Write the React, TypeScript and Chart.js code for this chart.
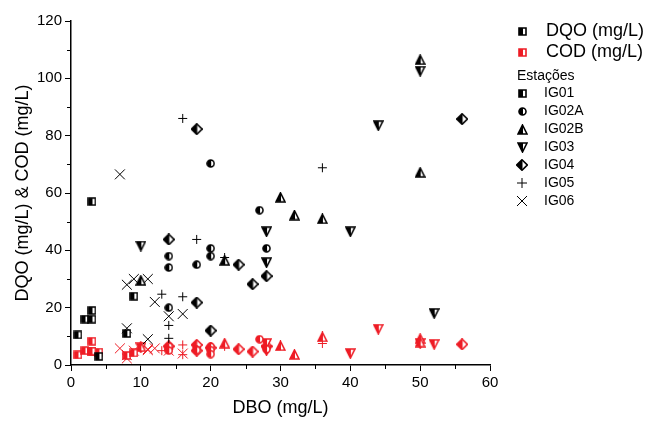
import React, { useEffect, useRef } from "react";
import { Chart, registerables } from "chart.js";
Chart.register(...registerables);

const FONT = "'Liberation Sans', Arial, sans-serif";
const BLACK = "#000000";
const RED = "#ee1c25";

const stations = ["IG01", "IG02A", "IG02B", "IG03", "IG04", "IG05", "IG06"];
const shapes = ["square", "circle", "triUp", "triDown", "diamond", "cross", "crossRot"];

const ig01DBO = [1, 2, 3, 3, 4, 8, 9, 3];
const ig01DQO = [10.5, 16, 16, 19, 3, 11, 24, 57];
const ig01COD = [3.5, 5, 4.8, 8.3, 4.5, 3.3, 4.2, 4.8];

const ig02aDBO = [14, 14, 14, 18, 20, 20, 20, 27, 28];
const ig02aDQO = [38, 34, 20, 35, 40.7, 38, 70.3, 54, 40.7];
const ig02aCOD = [5.5, 6.5, 5, 5.2, 6.4, 5.2, 3.8, 9, 5.5];

const ig02bDBO = [10, 22, 30, 32, 36, 50, 50];
const ig02bDQO = [29.5, 36.5, 58.5, 52.3, 51, 106.5, 67.2];
const ig02bCOD = [6.4, 7.6, 6.7, 3.7, 9.8, 9.2, 8];

const ig03DBO = [10, 28, 28, 40, 44, 50, 52];
const ig03DQO = [41.5, 46.5, 35.7, 46.5, 83.5, 102.5, 18];
const ig03COD = [6, 7.5, 5, 4, 12.5, 7.5, 7.2];

const ig04DBO = [14, 18, 18, 20, 24, 26, 28, 56];
const ig04DQO = [43.8, 82.3, 21.8, 12, 35, 28.2, 31, 85.8];
const ig04COD = [6.5, 7, 5, 6, 5.5, 4.7, 6.5, 7.2];

const ig05DBO = [13, 14, 14, 16, 16, 18, 22, 36];
const ig05DQO = [24.7, 13.8, 9.3, 23.8, 86, 43.8, 37.5, 68.8];
const ig05COD = [5, 5.5, 6.5, 7, 3.6, 6, 6.5, 7.5];

const ig06DBO = [7, 8, 8, 9, 11, 11, 12, 14, 16];
const ig06DQO = [66.5, 28, 12.8, 30, 30, 9, 22, 17, 17.8];
const ig06COD = [5.8, 2.3, 3.5, 5, 5.2, 5.5, 5.8, 5, 4];

const dboByStation = [ig01DBO, ig02aDBO, ig02bDBO, ig03DBO, ig04DBO, ig05DBO, ig06DBO];
const dqoByStation = [ig01DQO, ig02aDQO, ig02bDQO, ig03DQO, ig04DQO, ig05DQO, ig06DQO];
const codByStation = [ig01COD, ig02aCOD, ig02bCOD, ig03COD, ig04COD, ig05COD, ig06COD];

const xTicks = [0, 10, 20, 30, 40, 50, 60];
const yTicks = [0, 20, 40, 60, 80, 100, 120];

const sizeOf: Record<string, number> = { square: 9, circle: 9, triUp: 11, triDown: 11, diamond: 12 };

function shapePath(ctx: CanvasRenderingContext2D, shape: string, s: number) {
  const c = s / 2;
  ctx.beginPath();
  if (shape === "square") ctx.rect(1, 1, s - 2, s - 2);
  else if (shape === "circle") ctx.arc(c, c, c - 1, 0, Math.PI * 2);
  else if (shape === "triUp") {
    ctx.moveTo(c, 1); ctx.lineTo(s - 1, s - 1); ctx.lineTo(1, s - 1); ctx.closePath();
  } else if (shape === "triDown") {
    ctx.moveTo(1, 1); ctx.lineTo(s - 1, 1); ctx.lineTo(c, s - 1); ctx.closePath();
  } else if (shape === "diamond") {
    ctx.moveTo(c, 0.75); ctx.lineTo(s - 0.75, c); ctx.lineTo(c, s - 0.75); ctx.lineTo(0.75, c); ctx.closePath();
  }
}

function makeMarker(shape: string, color: string): HTMLCanvasElement {
  const s = sizeOf[shape];
  const cv = document.createElement("canvas");
  cv.width = s; cv.height = s;
  const ctx = cv.getContext("2d")!;
  shapePath(ctx, shape, s);
  ctx.fillStyle = "#ffffff";
  ctx.fill();
  ctx.save();
  ctx.beginPath();
  ctx.rect(0, 0, s / 2 + 0.5, s);
  ctx.clip();
  shapePath(ctx, shape, s);
  ctx.fillStyle = color;
  ctx.fill();
  ctx.restore();
  shapePath(ctx, shape, s);
  ctx.strokeStyle = color;
  ctx.lineWidth = 1.6;
  ctx.stroke();
  return cv;
}

function pointStyleFor(shape: string, color: string): any {
  if (shape === "cross") return "cross";
  if (shape === "crossRot") return "crossRot";
  return makeMarker(shape, color);
}

function drawLegendMarker(ctx: CanvasRenderingContext2D, shape: string, color: string, x: number, y: number) {
  if (shape === "cross" || shape === "crossRot") {
    ctx.save();
    ctx.strokeStyle = color;
    ctx.lineWidth = 1;
    ctx.beginPath();
    if (shape === "cross") {
      ctx.moveTo(x - 5, y); ctx.lineTo(x + 5, y);
      ctx.moveTo(x, y - 5); ctx.lineTo(x, y + 5);
    } else {
      ctx.moveTo(x - 5, y - 5); ctx.lineTo(x + 5, y + 5);
      ctx.moveTo(x + 5, y - 5); ctx.lineTo(x - 5, y + 5);
    }
    ctx.stroke();
    ctx.restore();
    return;
  }
  const m = makeMarker(shape, color);
  ctx.drawImage(m, Math.round(x - m.width / 2), Math.round(y - m.height / 2));
}

const legendPlugin = {
  id: "customLegend",
  afterDraw(chart: any) {
    const ctx: CanvasRenderingContext2D = chart.ctx;
    ctx.save();
    ctx.fillStyle = "#000";
    ctx.textBaseline = "middle";
    ctx.textAlign = "left";
    drawLegendMarker(ctx, "square", BLACK, 522, 31);
    drawLegendMarker(ctx, "square", RED, 522, 52);
    ctx.font = `18px ${FONT}`;
    ctx.fillText("DQO (mg/L)", 546, 31);
    ctx.fillText("COD (mg/L)", 546, 52);
    ctx.font = `14px ${FONT}`;
    ctx.fillText("Estações", 517, 76);
    stations.forEach((st, i) => {
      const y = 93 + i * 18;
      drawLegendMarker(ctx, shapes[i], BLACK, 522, y);
      ctx.fillStyle = "#000";
      ctx.fillText(st, 544, y);
    });
    ctx.restore();
  },
};

const minorTicksPlugin = {
  id: "minorTicks",
  afterDraw(chart: any) {
    const ctx: CanvasRenderingContext2D = chart.ctx;
    const xs = chart.scales.x;
    const ys = chart.scales.y;
    const area = chart.chartArea;
    ctx.save();
    ctx.strokeStyle = "#000";
    ctx.lineWidth = 1;
    ctx.beginPath();
    for (let v = 5; v < 60; v += 10) {
      const px = Math.round(xs.getPixelForValue(v)) + 0.5;
      ctx.moveTo(px, area.bottom);
      ctx.lineTo(px, area.bottom + 4);
    }
    for (let v = 10; v < 120; v += 20) {
      const py = Math.round(ys.getPixelForValue(v)) + 0.5;
      ctx.moveTo(area.left, py);
      ctx.lineTo(area.left - 4, py);
    }
    ctx.stroke();
    ctx.restore();
  },
};

export default function App() {
  const ref = useRef<HTMLCanvasElement>(null);
  useEffect(() => {
    if (!ref.current) return;
    const datasets: any[] = [];
    stations.forEach((st, i) => {
      const isLine = shapes[i] === "cross" || shapes[i] === "crossRot";
      const radius = shapes[i] === "crossRot" ? 7 : 4.5;
      datasets.push({
        label: `${st} DQO`,
        data: dboByStation[i].map((x, j) => ({ x, y: dqoByStation[i][j] })),
        pointStyle: pointStyleFor(shapes[i], BLACK),
        radius,
        borderColor: BLACK,
        backgroundColor: BLACK,
        borderWidth: isLine ? 1 : 0,
        showLine: false,
      });
    });
    stations.forEach((st, i) => {
      const isLine = shapes[i] === "cross" || shapes[i] === "crossRot";
      const radius = shapes[i] === "crossRot" ? 7 : 4.5;
      datasets.push({
        label: `${st} COD`,
        data: dboByStation[i].map((x, j) => ({ x, y: codByStation[i][j] })),
        pointStyle: pointStyleFor(shapes[i], RED),
        radius,
        borderColor: RED,
        backgroundColor: RED,
        borderWidth: isLine ? 1 : 0,
        showLine: false,
      });
    });

    const chart = new Chart(ref.current, {
      type: "scatter",
      data: { datasets },
      plugins: [minorTicksPlugin, legendPlugin],
      options: {
        animation: false,
        responsive: false,
        maintainAspectRatio: false,
        layout: { padding: { left: 0, right: 156, top: 21, bottom: 0 } },
        plugins: { legend: { display: false }, tooltip: { enabled: false } },
        scales: {
          x: {
            type: "linear",
            min: 0,
            max: 60,
            afterFit: (s: any) => { s.height = 58; },
            afterBuildTicks: (s: any) => { s.ticks = xTicks.map((v) => ({ value: v })); },
            ticks: { color: "#000", font: { family: FONT, size: 15 }, padding: 3, maxRotation: 0 },
            grid: { display: true, drawOnChartArea: false, drawTicks: true, tickLength: 6, color: "#000", lineWidth: 1 },
            border: { display: true, color: "#000", width: 1.5 },
            title: { display: true, text: "DBO (mg/L)", color: "#000", font: { family: FONT, size: 18 }, padding: { top: 0, bottom: 4 } },
          },
          y: {
            type: "linear",
            min: 0,
            max: 120,
            afterFit: (s: any) => { s.width = 71; },
            afterBuildTicks: (s: any) => { s.ticks = yTicks.map((v) => ({ value: v })); },
            ticks: { color: "#000", font: { family: FONT, size: 15 }, padding: 3 },
            grid: { display: true, drawOnChartArea: false, drawTicks: true, tickLength: 6, color: "#000", lineWidth: 1 },
            border: { display: true, color: "#000", width: 1.5 },
            title: { display: true, text: "DQO (mg/L) & COD (mg/L)", color: "#000", font: { family: FONT, size: 18 }, padding: { top: 12, bottom: 0 } },
          },
        },
      },
    });
    return () => chart.destroy();
  }, []);

  return (
    <div style={{ position: "fixed", left: 0, top: 0, width: 646, height: 423, background: "#fff" }}>
      <canvas ref={ref} width={646} height={423} style={{ width: 646, height: 423, display: "block" }} />
    </div>
  );
}
